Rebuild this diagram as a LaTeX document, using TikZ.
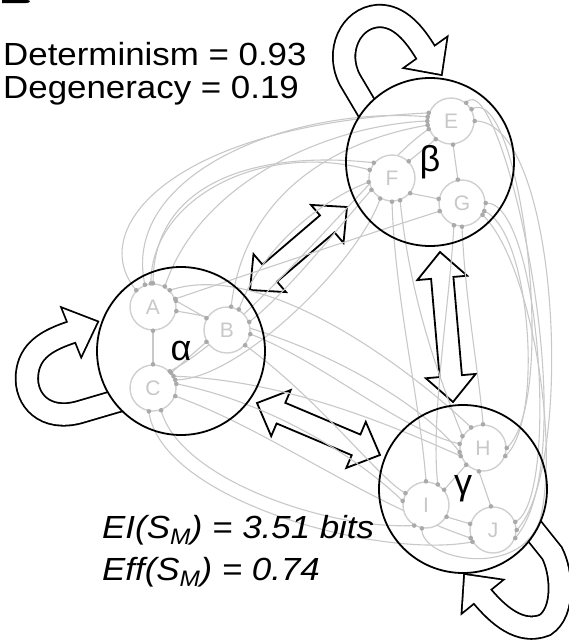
\documentclass[tikz,border=0pt]{standalone}
\usepackage{fontspec}
\setmainfont{Liberation Sans}
\usetikzlibrary{calc}
\pgfdeclarelayer{bg}
\pgfdeclarelayer{edges}
\pgfsetlayers{bg,edges,main}
\definecolor{edgegray}{RGB}{200,200,200}
\definecolor{dotgray}{RGB}{170,170,170}
\definecolor{nodegray}{RGB}{208,208,208}
\definecolor{lettergray}{RGB}{200,200,200}
\tikzset{
  bigstate/.style={circle, draw=black, line width=1.8pt, minimum size=168pt, inner sep=0pt, font=\fontsize{36}{36}\selectfont},
  substate/.style={circle, draw=nodegray, line width=1.4pt, fill=white, minimum size=46pt, inner sep=0pt, text=lettergray, font=\fontsize{21}{21}\selectfont},
  gline/.style={draw=edgegray, line width=1.1pt},
  gdot/.style={fill=dotgray},
  bigtext/.style={anchor=base west, inner sep=0pt, font=\fontsize{32}{32}\selectfont, xscale=1.09, transform shape},
  blockline/.style={draw=black, fill=white, line width=1.8pt, line join=miter},
}
\newcommand\gcurve[4]{\begin{pgfonlayer}{edges}\draw[gline] (#1) .. controls (#2) and (#3) .. (#4);\end{pgfonlayer}\fill[gdot] (#1) circle (2.3pt) (#4) circle (2.3pt);}
\newcommand\gstraight[2]{\begin{pgfonlayer}{edges}\draw[gline] (#1) -- (#2);\end{pgfonlayer}\fill[gdot] (#1) circle (2.3pt) (#2) circle (2.3pt);}
\newcommand\dblblock[2]{\draw[blockline] (#1)
  -- ($(#1)!26pt!(#2)!25pt!90:(#2)$) -- ($(#1)!26pt!(#2)!11.2pt!90:(#2)$)
  -- ($(#2)!26pt!(#1)!11.2pt!-90:(#1)$) -- ($(#2)!26pt!(#1)!25pt!-90:(#1)$)
  -- (#2)
  -- ($(#2)!26pt!(#1)!25pt!90:(#1)$) -- ($(#2)!26pt!(#1)!11.2pt!90:(#1)$)
  -- ($(#1)!26pt!(#2)!11.2pt!-90:(#2)$) -- ($(#1)!26pt!(#2)!25pt!-90:(#2)$)
  -- cycle;}
\newcommand\headtri[2]{(#1) -- ($(#2)!25pt!90:(#1)$) -- ($(#2)!25pt!-90:(#1)$) -- cycle}
\begin{document}
\begin{tikzpicture}[x=1pt,y=-1pt]
\useasboundingbox (0,0) rectangle (568,643);
% cropped panel letter fragment
\fill (2,0) -- (27,0) .. controls (31,0) and (31,3) .. (26,3) -- (2,3) -- cycle;

% big states
\node[bigstate] (al) at (181,351) {α};
\node[bigstate] (be) at (430,162) {β};
\node[bigstate] (ga) at (463,489) {γ};

% sub states
\node[substate] (A) at (153,307) {A};
\node[substate] (B) at (227,330) {B};
\node[substate] (C) at (153,388) {C};
\node[substate] (E) at (451,121) {E};
\node[substate] (F) at (392,178) {F};
\node[substate] (G) at (462,203) {G};
\node[substate] (H) at (483,448) {H};
\node[substate] (I) at (426,505) {I};
\node[substate] (J) at (493,530) {J};

% texts
\node[bigtext] (det) at (3,65) {Determinism = 0.93};
\node[bigtext] (deg) at (3,98) {Degeneracy = 0.19};
\node[bigtext, font=\fontsize{32}{32}\selectfont\itshape] (ei) at (102,538) {EI(S\textsubscript{M}) = 3.51 bits};
\node[bigtext, font=\fontsize{32}{32}\selectfont\itshape] (eff) at (102,580) {Eff(S\textsubscript{M}) = 0.74};

% arrow coordinates
\coordinate (abP) at (250,290); \coordinate (abQ) at (347,207);
\coordinate (bgP) at (440,252); \coordinate (bgQ) at (453,402);
\coordinate (agP) at (257,403); \coordinate (agQ) at (380,455);
\coordinate (aT) at (97,322); \coordinate (aM) at (72,332);
\coordinate (bT) at (441,74); \coordinate (bM) at (426,53);
\coordinate (cT) at (465,575); \coordinate (cM) at (482,596);
\def\alphaloop{(140,395) -- (114,402) -- (80,412) .. controls (45,422) and (25,400) .. (27,375) .. controls (29,350) and (48,340) .. (aM) -- ($(aM)!4pt!(aT)$)}
\def\betaloop{(380,131) -- (366,107) -- (350,80) .. controls (335,52) and (350,18) .. (378,16) .. controls (400,15) and (415,35) .. (bM) -- ($(bM)!4pt!(bT)$)}
\def\gammaloop{(520,513) -- (536,533) -- (552,553) .. controls (562,572) and (565,612) .. (545,625) .. controls (520,635) and (498,615) .. (cM) -- ($(cM)!4pt!(cT)$)}

\begin{pgfonlayer}{bg}
  % self loops: black pass
  \draw[black, line width=24.2pt] \alphaloop;
  \filldraw[black, line width=3.6pt, line join=miter] \headtri{aT}{aM};
  \draw[black, line width=24.2pt] \betaloop;
  \filldraw[black, line width=3.6pt, line join=miter] \headtri{bT}{bM};
  \draw[black, line width=24.2pt] \gammaloop;
  \filldraw[black, line width=3.6pt, line join=miter] \headtri{cT}{cM};
  % white pass
  \draw[white, line width=20.6pt] \alphaloop;
  \fill[white] \headtri{aT}{aM};
  \draw[white, line width=20.6pt] \betaloop;
  \fill[white] \headtri{bT}{bM};
  \draw[white, line width=20.6pt] \gammaloop;
  \fill[white] \headtri{cT}{cM};
  % double arrows
  \dblblock{abP}{abQ}
  \dblblock{bgP}{bgQ}
  \dblblock{agP}{agQ}
  % white interiors of big states
  \fill[white] (al.center) circle (84pt);
  \fill[white] (be.center) circle (84pt);
  \fill[white] (ga.center) circle (84pt);
\end{pgfonlayer}

% internal edges
\gstraight{A.15}{B.150}
\gstraight{A.-90}{C.90}
\gstraight{B.-150}{C.40}
\gstraight{E.-130}{F.45}
\gstraight{E.-85}{G.100}
\gstraight{F.-40}{G.170}
\gstraight{H.-135}{I.40}
\gstraight{H.-100}{J.95}
\gstraight{I.-30}{J.165}

% alpha - beta
\gcurve{A.95}{150,200}{260,140}{F.160}
\gcurve{A.110}{120,170}{300,105}{E.170}
\gcurve{A.135}{85,230}{170,125}{E.160}
\gcurve{A.90}{153,180}{260,150}{F.140}
\gcurve{B.60}{260,250}{320,200}{F.190}
\gcurve{B.80}{245,190}{340,140}{E.190}
\gcurve{F.-150}{340,225}{290,290}{B.20}
\gcurve{G.200}{380,230}{260,270}{A.20}
\gcurve{E.180}{330,125}{200,180}{A.60}
\gcurve{F.-120}{360,260}{240,380}{C.20}
\gcurve{E.-160}{380,160}{250,330}{C.45}

% beta - gamma
\gcurve{F.-90}{395,300}{420,400}{I.90}
\gcurve{G.-90}{465,300}{480,380}{H.90}
\gcurve{F.-70}{410,300}{440,380}{H.150}
\gcurve{G.-110}{450,300}{430,420}{I.60}
\gcurve{E.0}{560,120}{575,470}{J.0}
\gcurve{E.30}{520,80}{560,400}{H.0}
\gcurve{G.0}{540,200}{560,500}{J.20}
\gcurve{G.-20}{530,230}{545,420}{H.-20}
\gcurve{E.50}{500,60}{590,450}{J.-20}
\begin{pgfonlayer}{edges}
\draw[gline] (I.-100) .. controls (420,560) and (520,580) .. (540,520) .. controls (560,440) and (530,260) .. (G.-30);
\end{pgfonlayer}
\fill[gdot] (I.-100) circle (2.3pt) (G.-30) circle (2.3pt);

% alpha - gamma
\gcurve{B.-10}{320,360}{400,430}{H.170}
\gcurve{B.-40}{320,400}{380,480}{I.150}
\gcurve{C.10}{260,400}{350,450}{I.170}
\gcurve{C.-20}{270,430}{360,500}{J.200}
\gcurve{C.-70}{180,480}{330,530}{I.-120}
\gcurve{C.-100}{160,500}{380,560}{J.-150}
\gcurve{A.-10}{300,330}{420,400}{H.190}
\gcurve{C.30}{280,380}{380,420}{H.-160}
\gcurve{H.120}{400,360}{260,260}{A.45}
\end{tikzpicture}
\end{document}
